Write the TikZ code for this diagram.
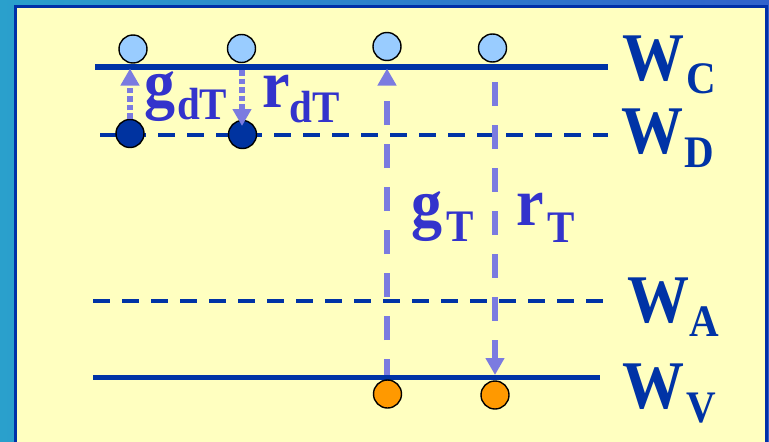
\documentclass[tikz,border=0pt]{standalone}
\usepackage{fontspec}
\usepackage{graphicx}
\setmainfont{Liberation Serif}
\usetikzlibrary{arrows.meta}
\definecolor{bgL}{HTML}{2AA0CC}
\definecolor{bgR}{HTML}{3062CC}
\definecolor{paper}{HTML}{FFFFC0}
\definecolor{frame}{HTML}{0030A8}
\definecolor{lvl}{HTML}{0033A6}
\definecolor{lab}{HTML}{3333CC}
\definecolor{arr}{HTML}{7B7BE0}
\definecolor{cup}{HTML}{99CCFF}
\definecolor{cdn}{HTML}{0033A0}
\definecolor{orng}{HTML}{FF9900}
\newcommand{\bigf}{\fontsize{62}{62}\selectfont\bfseries}
\newcommand{\subf}{\fontsize{41}{41}\selectfont\bfseries}
\newcommand{\lbl}[3]{\scalebox{1}[1.1]{#1\raisebox{#3}{\subf #2}}}
\begin{document}
\begin{tikzpicture}[x=1pt,y=-1pt,
  lvlsolid/.style={draw=lvl,line width=5.5pt},
  lvldash/.style={draw=lvl,line width=4pt,dash pattern=on 17pt off 12pt},
  ball/.style={circle,draw=black,line width=1.4pt,minimum size=28pt,inner sep=0pt},
  upball/.style={ball,fill=cup},
  dnball/.style={ball,fill=cdn},
  orball/.style={ball,fill=orng},
  dotarr/.style={draw=arr,line width=6pt,dash pattern=on 5.5pt off 3pt,
    -{Triangle[width=18pt,length=17pt]}},
  dasharr/.style={draw=arr,line width=6pt,dash pattern=on 24pt off 19pt,
    -{Triangle[width=18pt,length=17pt]}},
  wlab/.style={anchor=base west,inner sep=0pt,text=lvl,font=\bigf},
  rlab/.style={anchor=base west,inner sep=0pt,text=lab,font=\bigf}
]
\useasboundingbox (0,0) rectangle (769,442);
\clip (0,0) rectangle (769,442);
\shade[left color=bgL,right color=bgR] (0,0) rectangle (769,442);
\filldraw[fill=paper,draw=frame,line width=3.4pt] (15.7,6.7) rectangle (766.3,470);

% levels
\draw[lvlsolid] (95,67) -- (608,67);
\draw[lvldash] (100,135) -- (608,135);
\draw[lvldash] (93,300.5) -- (606,300.5);
\draw[lvlsolid] (93,377.5) -- (600,377.5);

% arrow end points
\coordinate (gdtTop) at (130,68.5);
\coordinate (rdtTop) at (242,70);
\coordinate (rdtEnd) at (242,126);
\coordinate (gtBot) at (387,375);
\coordinate (gtTop) at (387,68.5);
\coordinate (rtTop) at (495,82);
\coordinate (rtEnd) at (495,375);

% balls
\node[upball] (c1) at (133,49) {};
\node[upball] (c2) at (241.5,48.5) {};
\node[upball] (c3) at (387,46.5) {};
\node[upball] (c4) at (492.5,48) {};
\node[dnball] (d1) at (130,133.5) {};
\node[dnball] (d2) at (242.5,134.5) {};
\node[orball] (o1) at (387.5,394) {};
\node[orball] (o2) at (495,395) {};

\draw[dotarr] (d1.north) -- (gdtTop);
\draw[dotarr] (rdtTop) -- (rdtEnd);
\draw[dasharr,dash phase=8pt] (gtBot) -- (gtTop);
\draw[dasharr] (rtTop) -- (rtEnd);

% labels
\node[wlab] (wc) at (622,80) {\lbl{W}{\hspace{2pt}C}{-12pt}};
\node[wlab] (wd) at (621,153) {\lbl{W}{\hspace{1pt}D}{-13.5pt}};
\node[wlab] (wa) at (627,322) {\lbl{W}{A}{-13.5pt}};
\node[wlab] (wv) at (622,408) {\lbl{W}{\hspace{2pt}V}{-13.5pt}};
\node[rlab] (gdt) at (144,106) {\lbl{g}{\hspace{2pt}dT}{-12.7pt}};
\node[rlab] (rdt) at (262,107) {\lbl{r}{dT}{-14.5pt}};
\node[rlab] (gt) at (411,226) {\lbl{g}{\hspace{4pt}T}{-14.5pt}};
\node[rlab] (rt) at (516,225) {\lbl{r}{\hspace{4pt}T}{-15.5pt}};
\end{tikzpicture}
\end{document}
